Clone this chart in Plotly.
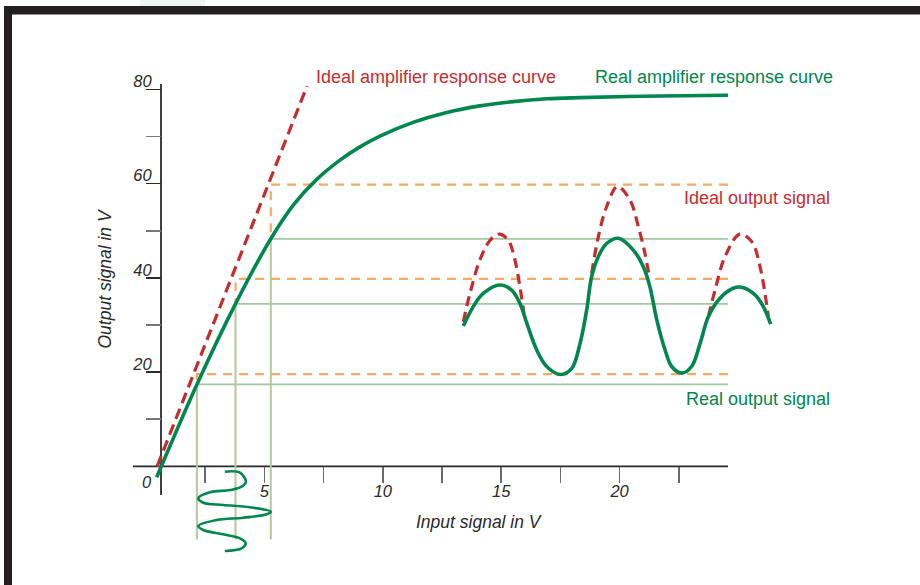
import plotly.graph_objects as go

# ---------------- data ----------------
# Ideal (linear) amplifier response
ideal_x = [0.47, 6.80]
ideal_y = [0.0, 80.7]

# Real amplifier response curve
real_x = [0.45, 2.15, 3.78, 5.27, 6.26, 7.21, 8.19, 9.00, 9.88, 11.28, 12.70,
          14.10, 15.50, 16.92, 18.33, 21.71, 24.58]
real_y = [-2.3, 17.4, 34.5, 48.3, 55.7, 60.9, 65.0, 67.7, 70.1, 73.0, 75.1,
          76.5, 77.4, 78.0, 78.25, 78.6, 78.75]

# Input signal extremes / centre and the resulting output levels
input_levels = [2.15, 3.78, 5.27]
ideal_levels = [19.6, 39.8, 59.8]
real_levels = [17.4, 34.5, 48.3]
projection_bottom = -15.5
level_line_end = 24.58

# Input signal (drawn below the x axis)
input_wave_x = [3.33, 3.97, 4.22, 4.04, 3.55, 2.70, 2.21, 2.42, 3.26, 4.39, 5.27,
                5.10, 4.11, 2.99, 2.21, 2.42, 3.26, 3.97, 4.21, 4.04, 3.33]
input_wave_y = [-1.12, -1.34, -3.25, -4.31, -5.01, -5.50, -6.77, -7.70, -8.19, -8.68, -9.61,
                -10.16, -10.89, -11.37, -12.65, -13.50, -14.41, -15.26, -16.32, -17.38, -17.95]

# Real output signal
real_out_x = [13.40, 13.82, 14.24, 14.95, 15.44, 15.79, 16.08, 16.50, 16.92, 17.51,
              17.98, 18.33, 18.61, 18.82, 19.10, 19.45, 19.95, 20.58, 21.00, 21.28,
              21.57, 21.92, 22.20, 22.62, 23.04, 23.40, 23.75, 24.24, 24.80, 25.16,
              25.72, 26.07, 26.38]
real_out_y = [29.8, 33.9, 36.7, 38.5, 37.4, 34.6, 30.4, 24.7, 21.2, 19.5,
              20.8, 26.1, 33.2, 40.3, 44.5, 47.3, 48.4, 45.9, 42.4, 38.1,
              31.1, 24.7, 21.2, 19.8, 21.2, 26.1, 31.8, 35.7, 37.8, 38.0,
              36.4, 33.9, 30.2]

# Ideal output signal (only the parts above the real signal)
ideal_out_x = [13.40, 13.68, 14.10, 14.53, 14.92, 15.30, 15.58, 15.79, 15.96, None,
               18.82, 19.10, 19.45, 19.91, 20.44, 20.79, 21.07, 21.25, None,
               23.75, 24.03, 24.45, 25.08, 25.58, 25.93, 26.28]
ideal_out_y = [30.7, 36.7, 43.8, 48.0, 49.3, 48.0, 43.8, 38.1, 32.5, None,
               41.0, 48.7, 55.1, 59.4, 56.5, 50.9, 45.2, 40.3, None,
               31.8, 37.4, 44.5, 49.3, 47.7, 42.4, 31.8]

# Axis ticks
x_tick_vals = [2.5, 5, 7.5, 10, 12.5, 15, 17.5, 20, 22.5]
x_tick_text = ["", "5", "", "10", "", "15", "", "20", ""]
y_major_vals = [20, 40, 60, 80]
y_minor_vals = [10, 30, 50, 70]

# ---------------- geometry / style ----------------
W, H = 920, 585
L, R, T, B = 120, 130, 75, 25
X0PX, XS = 146.0, 23.68     # px of x=0, px per volt
Y0PX, YS = 466.4, 4.7125    # px of y=0, px per volt


def px_x(px):
    return (px - L) / (W - L - R)


def px_y(py):
    return (H - B - py) / (H - T - B)


def dx(px):
    return (px - X0PX) / XS


def dy(py):
    return (Y0PX - py) / YS


RED = "#c62c2e"
GREEN = "#00874d"
ORANGE = "#f8aa62"
LGREEN = "#a3c7a1"
VGREEN = "#b6c79b"
INK = "#2a2a2a"
FONT = "Liberation Sans, Arial, Helvetica, sans-serif"

fig = go.Figure()

# green projection lines (vertical + horizontal)
for xi, rl in zip(input_levels, real_levels):
    fig.add_trace(go.Scatter(x=[xi, xi], y=[projection_bottom, rl], mode="lines",
                             line=dict(color=VGREEN, width=2), hoverinfo="skip"))
    fig.add_trace(go.Scatter(x=[xi, level_line_end], y=[rl, rl], mode="lines",
                             line=dict(color=LGREEN, width=1.8), hoverinfo="skip"))
# orange ideal level lines
for xi, il, rl in zip(input_levels, ideal_levels, real_levels):
    fig.add_trace(go.Scatter(x=[level_line_end, xi, xi], y=[il, il, rl], mode="lines",
                             line=dict(color=ORANGE, width=2.2, dash="9px,7px"),
                             hoverinfo="skip"))

# ideal response
fig.add_trace(go.Scatter(x=ideal_x, y=ideal_y, mode="lines",
                         line=dict(color=RED, width=3.2, dash="11px,6px"), hoverinfo="skip"))
# real response
fig.add_trace(go.Scatter(x=real_x, y=real_y, mode="lines",
                         line=dict(color=GREEN, width=3.6, shape="spline", smoothing=1.0),
                         hoverinfo="skip"))
# ideal output
fig.add_trace(go.Scatter(x=ideal_out_x, y=ideal_out_y, mode="lines", connectgaps=False,
                         line=dict(color=RED, width=3.2, dash="10px,6px", shape="spline",
                                   smoothing=1.0), hoverinfo="skip"))
# real output
fig.add_trace(go.Scatter(x=real_out_x, y=real_out_y, mode="lines",
                         line=dict(color=GREEN, width=3.6, shape="spline", smoothing=1.0),
                         hoverinfo="skip"))
# input wave
fig.add_trace(go.Scatter(x=input_wave_x, y=input_wave_y, mode="lines",
                         line=dict(color=GREEN, width=2.6, shape="spline", smoothing=1.0),
                         hoverinfo="skip"))

shapes = [
    # axis lines
    dict(type="line", xref="x", yref="y", x0=dx(161), x1=dx(161), y0=dy(495), y1=dy(84),
         line=dict(color=INK, width=1.8), layer="below"),
    dict(type="line", xref="x", yref="y", x0=dx(133), x1=dx(728), y0=0, y1=0,
         line=dict(color=INK, width=1.8), layer="below"),
    # frame
    dict(type="rect", xref="paper", yref="paper", x0=px_x(4), x1=px_x(930),
         y0=px_y(14.5), y1=px_y(6), fillcolor="#231f20", line=dict(width=0)),
    dict(type="rect", xref="paper", yref="paper", x0=px_x(4), x1=px_x(12),
         y0=px_y(595), y1=px_y(6), fillcolor="#231f20", line=dict(width=0)),
    dict(type="rect", xref="paper", yref="paper", x0=px_x(140), x1=px_x(205),
         y0=px_y(6), y1=px_y(0), fillcolor="#eef6f4", line=dict(width=0)),
]

label_font = dict(family=FONT, size=18)
axis_font = dict(family=FONT, size=17.5, color=INK, style="italic")
annotations = [
    dict(text="Ideal amplifier response curve", x=px_x(314), y=px_y(77), xref="paper",
         yref="paper", xanchor="left", yanchor="middle", showarrow=False,
         font=dict(label_font, color=RED)),
    dict(text="Real amplifier response curve", x=px_x(593), y=px_y(77.5), xref="paper",
         yref="paper", xanchor="left", yanchor="middle", showarrow=False,
         font=dict(label_font, color=GREEN)),
    dict(text="Ideal output signal", x=px_x(832), y=px_y(198), xref="paper",
         yref="paper", xanchor="right", yanchor="middle", showarrow=False,
         font=dict(label_font, color=RED)),
    dict(text="Real output signal", x=px_x(832), y=px_y(398.5), xref="paper",
         yref="paper", xanchor="right", yanchor="middle", showarrow=False,
         font=dict(label_font, color=GREEN)),
    dict(text="Input signal in V", x=px_x(479), y=px_y(522), xref="paper",
         yref="paper", xanchor="center", yanchor="middle", showarrow=False, font=axis_font),
    dict(text="Output signal in V", x=px_x(104.5), y=px_y(279), xref="paper",
         yref="paper", xanchor="center", yanchor="middle", showarrow=False,
         textangle=-90, font=axis_font),
    dict(text="0", x=px_x(146.7), y=px_y(481.7), xref="paper", yref="paper",
         xanchor="center", yanchor="middle", showarrow=False,
         font=dict(family=FONT, size=16.5, color=INK, style="italic")),
]

tick_font = dict(family=FONT, size=16.5, color=INK, style="italic")

fig.update_layout(
    width=W, height=H,
    margin=dict(l=L, r=R, t=T, b=B, autoexpand=False),
    paper_bgcolor="white", plot_bgcolor="rgba(0,0,0,0)",
    showlegend=False, template="none",
    shapes=shapes, annotations=annotations,
    xaxis=dict(range=[dx(L), dx(W - R)], anchor="free", position=px_y(Y0PX),
               showline=False, zeroline=False, showgrid=False, automargin=False,
               tickmode="array", tickvals=x_tick_vals, ticktext=x_tick_text,
               ticks="outside", ticklen=16, tickwidth=1.6, tickcolor="#6a6a6a",
               tickfont=tick_font, ticklabelstandoff=-6, fixedrange=True),
    yaxis=dict(range=[dy(H - B), dy(T)], anchor="free", position=px_x(161),
               showline=False, zeroline=False, showgrid=False, automargin=False,
               tickmode="array", tickvals=y_major_vals,
               ticks="outside", ticklen=15, tickwidth=1.6, tickcolor=INK,
               tickfont=tick_font, ticklabelshift=-8, ticklabelstandoff=-9,
               minor=dict(tickmode="array", tickvals=y_minor_vals, ticks="outside",
                          ticklen=15, tickwidth=1.6, tickcolor="#777777", showgrid=False),
               fixedrange=True),
)

fig.write_html("out.html", config={"displayModeBar": False, "staticPlot": True},
               post_script="document.body.style.margin='0';")
